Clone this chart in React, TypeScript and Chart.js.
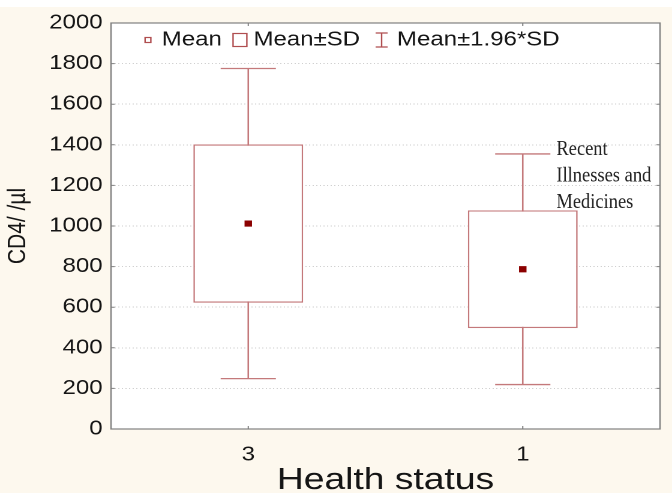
import { useEffect, useRef } from 'react';
import { Chart, registerables } from 'chart.js';

Chart.register(...registerables);

// values
const groups = ['3', '1'];
const means = [1012, 787];
const sdLow = [622, 497];
const sdHigh = [1402, 1077];
const ciLow = [248, 219];
const ciHigh = [1776, 1355];
const yMin = 0;
const yMax = 2000;
const yStep = 200;
const legendLabels = ['Mean', 'Mean±SD', 'Mean±1.96*SD'];
const noteLines = ['Recent', 'Illnesses and', 'Medicines'];

// the source image is stretched sideways, so the whole chart is too
const SX = 1.2;
const W = 672;
const H = 493;
const BOX = '#c4797b';
const MARK = '#b04e50';
const MEAN = '#8b0000';
const CREAM = '#fdf8ee';
const INK = '#151515';
const SANS = '"Liberation Sans", Arial, sans-serif';
const CAP = 23;

const decorPlugin = {
    id: 'decor',
    beforeDraw(chart: Chart) {
        const { ctx, width, height, chartArea: a } = chart;
        ctx.save();
        ctx.fillStyle = CREAM;
        ctx.fillRect(0, 0, width, height);
        ctx.fillStyle = '#fff';
        ctx.fillRect(0, 0, width, 7);
        ctx.fillRect(a.left, a.top, a.right - a.left, a.bottom - a.top);
        ctx.restore();
    },
    afterDraw(chart: Chart) {
        const { ctx, chartArea: a } = chart;
        const xs = chart.scales.x;
        const ys = chart.scales.y;
        ctx.save();

        // frame and small inner ticks
        ctx.strokeStyle = '#808080';
        ctx.lineWidth = 1.2;
        ctx.strokeRect(a.left, a.top, a.right - a.left, a.bottom - a.top);
        ctx.lineWidth = 1;
        ctx.beginPath();
        ys.ticks.forEach((t) => {
            const y = ys.getPixelForValue(t.value);
            ctx.moveTo(a.left, y);
            ctx.lineTo(a.left + 3, y);
            ctx.moveTo(a.right, y);
            ctx.lineTo(a.right - 3, y);
        });
        groups.forEach((_, i) => {
            const x = xs.getPixelForValue(i);
            ctx.moveTo(x, a.bottom);
            ctx.lineTo(x, a.bottom - 3);
            ctx.moveTo(x, a.top);
            ctx.lineTo(x, a.top + 3);
        });
        ctx.stroke();

        // legend inside the plot
        const ly = a.top + 17;
        ctx.strokeStyle = MARK;
        ctx.lineWidth = 1.2;
        let x = a.left + 30.8;
        ctx.strokeRect(x - 2.4, ly - 2.5, 4.8, 5);
        ctx.fillStyle = INK;
        ctx.font = `20px ${SANS}`;
        ctx.textBaseline = 'middle';
        ctx.textAlign = 'left';
        ctx.fillText(legendLabels[0], x + 11.5, ly);
        x = a.left + 101.7;
        ctx.strokeRect(x, ly - 6.5, 11.5, 13);
        ctx.fillText(legendLabels[1], x + 17, ly);
        x = a.left + 225.5;
        ctx.beginPath();
        ctx.moveTo(x - 5, ly - 7);
        ctx.lineTo(x + 5, ly - 7);
        ctx.moveTo(x, ly - 7);
        ctx.lineTo(x, ly + 7);
        ctx.moveTo(x - 5, ly + 7);
        ctx.lineTo(x + 5, ly + 7);
        ctx.stroke();
        ctx.fillText(legendLabels[2], x + 12.8, ly);
        ctx.restore();

        // annotation next to the second whisker, drawn unstretched
        const cx = xs.getPixelForValue(1);
        const top = ys.getPixelForValue(ciHigh[1]);
        ctx.save();
        ctx.scale(1 / SX, 1);
        ctx.translate((cx + CAP) * SX + 6, 0);
        ctx.scale(0.88, 1);
        ctx.fillStyle = '#222';
        ctx.font = '21px "Liberation Serif", "Times New Roman", serif';
        ctx.textBaseline = 'alphabetic';
        ctx.textAlign = 'left';
        noteLines.forEach((t, i) => ctx.fillText(t, 0, top + 1 + i * 26.5));
        ctx.restore();
    },
};

export default function App() {
    const canvasRef = useRef<HTMLCanvasElement>(null);

    useEffect(() => {
        if (!canvasRef.current) return;

        const chart = new Chart(canvasRef.current, {
            type: 'bar',
            data: {
                labels: groups,
                datasets: [
                    {
                        type: 'line',
                        label: legendLabels[0],
                        data: means,
                        showLine: false,
                        pointStyle: 'rect',
                        pointRadius: 4.4,
                        pointBackgroundColor: MEAN,
                        pointBorderWidth: 0,
                        order: 0,
                    },
                    {
                        type: 'bar',
                        label: legendLabels[1],
                        data: groups.map((_, i) => [sdLow[i], sdHigh[i]]),
                        backgroundColor: '#fff',
                        borderColor: BOX,
                        borderWidth: 1.3,
                        borderSkipped: false,
                        barPercentage: 0.4,
                        categoryPercentage: 1,
                        order: 1,
                    },
                    ...groups.map((g, i) => ({
                        type: 'line' as const,
                        label: legendLabels[2],
                        data: [
                            { x: g, y: ciLow[i] },
                            { x: g, y: ciHigh[i] },
                        ],
                        borderColor: BOX,
                        borderWidth: 1.3,
                        pointStyle: 'line' as const,
                        pointRadius: CAP,
                        pointBorderColor: BOX,
                        pointBorderWidth: 1.3,
                        order: 2,
                    })),
                ],
            },
            options: {
                animation: false,
                responsive: true,
                maintainAspectRatio: false,
                devicePixelRatio: 2,
                events: [],
                layout: {
                    autoPadding: false,
                    padding: { top: 23, right: 10, left: 0, bottom: 0 },
                },
                plugins: {
                    legend: { display: false },
                    tooltip: { enabled: false },
                },
                scales: {
                    x: {
                        type: 'category',
                        offset: true,
                        grid: { display: false, drawTicks: false },
                        border: { display: false },
                        ticks: {
                            color: INK,
                            font: { family: SANS, size: 20 },
                            padding: 14,
                        },
                        title: {
                            display: true,
                            text: 'Health status',
                            color: INK,
                            font: { family: SANS, size: 31, lineHeight: 1 },
                            padding: { top: 0, bottom: -3 },
                        },
                        afterFit: (s) => {
                            s.height = 64;
                        },
                    },
                    y: {
                        min: yMin,
                        max: yMax,
                        ticks: {
                            stepSize: yStep,
                            color: INK,
                            font: { family: SANS, size: 20 },
                            padding: 7,
                            callback: (v) => String(v),
                        },
                        grid: { color: '#d0d0d0', lineWidth: 1, drawTicks: false },
                        border: { display: false, dash: [1, 2] },
                        title: {
                            display: true,
                            text: 'CD4/ /µl',
                            color: INK,
                            font: { family: SANS, size: 21 },
                            padding: { top: 2.4, bottom: 0 },
                        },
                        afterFit: (s) => {
                            s.width = 92.5;
                        },
                    },
                },
            },
            plugins: [decorPlugin],
        });

        return () => chart.destroy();
    }, []);

    return (
        <div
            style={{
                position: 'fixed',
                left: 0,
                top: 0,
                width: W,
                height: H,
                overflow: 'hidden',
                background: CREAM,
            }}
        >
            <div
                style={{
                    position: 'relative',
                    width: W / SX,
                    height: H,
                    transform: `scaleX(${SX})`,
                    transformOrigin: '0 0',
                }}
            >
                <canvas ref={canvasRef} />
            </div>
        </div>
    );
}
